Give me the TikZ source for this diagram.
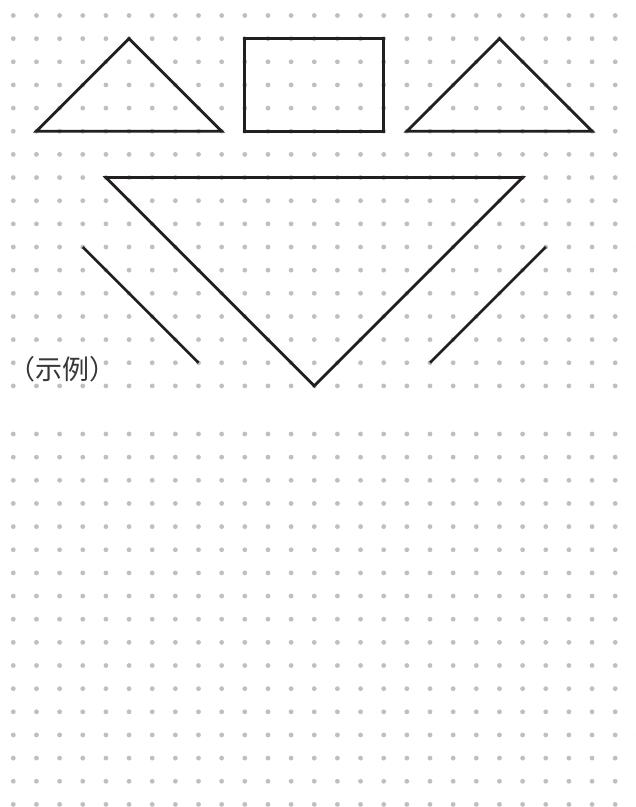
\documentclass[tikz,border=0pt]{standalone}
\usepackage{fontspec}
\newfontfamily\cjk{Noto Sans CJK SC}
\definecolor{dotgray}{RGB}{190,190,196}
\definecolor{ink}{RGB}{35,31,32}
\definecolor{textink}{RGB}{55,55,58}
\begin{document}
\begin{tikzpicture}[x=1bp,y=-1bp,
  shapeline/.style={draw=ink,line width=2.8bp,line join=miter},
  griddot/.style={fill=dotgray}]
\useasboundingbox (0,0) rectangle (636,807);
\fill[white] (0,0) rectangle (636,807);
% dot grids
\foreach \i in {0,...,27}{
  \foreach \j in {0,...,16}{
    \fill[griddot] (13.3+23.15*\i, 15.5+23.15*\j) circle (2.4bp);
    \fill[griddot] (13.3+23.15*\i, 434+23.15*\j) circle (2.4bp);
  }
}
% white patch behind label
\fill[white] (20,349) rectangle (101,383);
\node[anchor=west, inner sep=0, font=\cjk\fontsize{27bp}{27bp}\selectfont, text=textink] (label) at (8,369) {（示例）};
\begin{scope}[shift={(13.3,15.5)}, x=23.15bp, y=-23.15bp]
  % left triangle
  \coordinate (la) at (1,5); \coordinate (lb) at (5,1); \coordinate (lc) at (9,5);
  \draw[shapeline] (la) -- (lb) -- (lc) -- cycle;
  % rectangle
  \coordinate (ra) at (10,1); \coordinate (rb) at (16,5);
  \draw[shapeline] (ra) rectangle (rb);
  % right triangle
  \coordinate (ta) at (17,5); \coordinate (tb) at (21,1); \coordinate (tc) at (25,5);
  \draw[shapeline] (ta) -- (tb) -- (tc) -- cycle;
  % big inverted triangle
  \coordinate (ba) at (4,7); \coordinate (bb) at (22,7); \coordinate (bc) at (13,16);
  \draw[shapeline] (ba) -- (bb) -- (bc) -- cycle;
  % side segments
  \coordinate (sa) at (3,10); \coordinate (sb) at (8,15);
  \draw[shapeline] (sa) -- (sb);
  \coordinate (sc) at (23,10); \coordinate (sd) at (18,15);
  \draw[shapeline] (sc) -- (sd);
\end{scope}
\end{tikzpicture}
\end{document}
